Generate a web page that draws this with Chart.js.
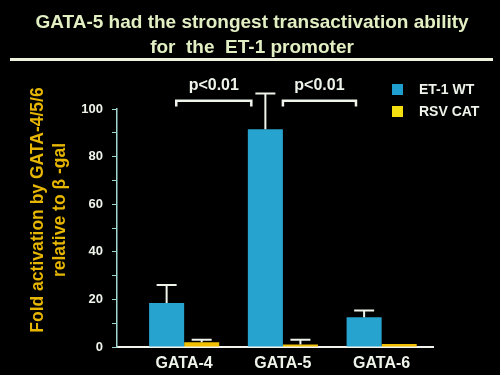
<!DOCTYPE html>
<html>
<head>
<meta charset="utf-8">
<script src="https://cdn.jsdelivr.net/npm/chart.js@4/dist/chart.umd.min.js"></script>
<style>
    html, body { margin: 0; padding: 0; background: #000; }
</style>
</head>
<body>
<canvas id="gata-chart" width="500" height="375"></canvas>
<script>
const categories = ['GATA-4', 'GATA-5', 'GATA-6'];
const et1Wt = [18.5, 91.5, 12.5];
const et1WtErr = [7.5, 15, 2.8];
const rsvCat = [2, 1, 1.3];
const rsvCatErr = [1, 2, 0];
const yTickLabels = [0, 20, 40, 60, 80, 100];
const titleLines = ['GATA-5 had the strongest transactivation ability', 'for  the  ET-1 promoter'];
const yTitleLines = ['Fold activation by GATA-4/5/6', 'relative to \u03B2 -gal'];
const pValues = ['p<0.01', 'p<0.01'];

const FONT = '"Liberation Sans", Arial, sans-serif';
const WHITE = '#eef4ea';

// black slide background
const background = {
    id: 'background',
    beforeDraw(chart) {
        const c = chart.ctx;
        c.save();
        c.fillStyle = '#000';
        c.fillRect(0, 0, chart.width, chart.height);
        c.restore();
    }
};

// error bars, drawn up from the bar top
const errorBars = {
    id: 'errorBars',
    afterDatasetsDraw(chart) {
        const c = chart.ctx;
        const y = chart.scales.y;
        c.save();
        c.strokeStyle = WHITE;
        c.lineWidth = 2;
        chart.data.datasets.forEach((ds, i) => {
            const meta = chart.getDatasetMeta(i);
            meta.data.forEach((bar, j) => {
                const err = ds.errors[j];
                if (!err) return;
                const top = y.getPixelForValue(ds.data[j].y + err);
                c.beginPath();
                c.moveTo(bar.x, bar.y);
                c.lineTo(bar.x, top);
                c.moveTo(bar.x - 10, top);
                c.lineTo(bar.x + 10, top);
                c.stroke();
            });
        });
        c.restore();
    }
};

// slide title, title rule, brackets, legend, y axis title
const extras = {
    id: 'extras',
    afterDraw(chart) {
        const c = chart.ctx;
        const x = chart.scales.x;
        const y = chart.scales.y;
        c.save();

        c.fillStyle = '#e2efc3';
        c.font = 'bold 19px ' + FONT;
        c.textAlign = 'center';
        c.textBaseline = 'middle';
        titleLines.forEach((line, i) => {
            c.fillText(line, 252, 23 + i * 25);
        });

        c.fillStyle = '#eef2dc';
        c.fillRect(10, 58, 483, 3);

        // significance brackets
        const spans = [[-0.08, 0.68], [1.0, 1.74]];
        const by = y.getPixelForValue(103.5);
        const legY = y.getPixelForValue(101);
        c.strokeStyle = WHITE;
        c.lineWidth = 2.5;
        c.fillStyle = WHITE;
        c.font = 'bold 16px ' + FONT;
        spans.forEach((s, i) => {
            const x1 = x.getPixelForValue(s[0]);
            const x2 = x.getPixelForValue(s[1]);
            c.beginPath();
            c.moveTo(x1, legY);
            c.lineTo(x1, by);
            c.lineTo(x2, by);
            c.lineTo(x2, legY);
            c.stroke();
            c.fillText(pValues[i], (x1 + x2) / 2, y.getPixelForValue(110));
        });

        // legend
        c.font = 'bold 14px ' + FONT;
        c.textAlign = 'left';
        chart.data.datasets.forEach((ds, i) => {
            const ly = 84 + i * 22;
            c.fillStyle = ds.legendColor;
            c.fillRect(392, ly, 11, 11);
            c.fillStyle = WHITE;
            c.fillText(ds.label, 419, ly + 6);
        });

        // y axis title
        c.translate(38, 210);
        c.rotate(-Math.PI / 2);
        c.fillStyle = '#e6b600';
        c.font = 'bold 17.5px ' + FONT;
        c.textAlign = 'center';
        yTitleLines.forEach((line, i) => {
            c.fillText(line, 0, i * 22);
        });
        c.restore();
    }
};

const ctx = document.getElementById('gata-chart').getContext('2d');
const gataChart = new Chart(ctx, {
    type: 'bar',
    data: {
        datasets: [
            {
                label: 'ET-1 WT',
                data: et1Wt.map((v, i) => ({ x: i, y: v })),
                errors: et1WtErr,
                backgroundColor: '#27a3cf',
                legendColor: '#1f9fd0',
                categoryPercentage: 0.71,
                barPercentage: 1.0
            },
            {
                label: 'RSV CAT',
                data: rsvCat.map((v, i) => ({ x: i, y: v })),
                errors: rsvCatErr,
                backgroundColor: '#f0c000',
                legendColor: '#f4e010',
                categoryPercentage: 0.71,
                barPercentage: 1.0
            }
        ]
    },
    options: {
        responsive: false,
        animation: false,
        layout: { padding: { left: 0, right: 67, top: 109, bottom: 0 } },
        plugins: {
            legend: { display: false },
            tooltip: { enabled: false },
            title: { display: false }
        },
        scales: {
            x: {
                type: 'linear',
                min: -0.68,
                max: 2.52,
                offset: false,
                afterBuildTicks(scale) {
                    scale.ticks = categories.map((c, i) => ({ value: i }));
                },
                afterFit(scale) { scale.height = 28; },
                ticks: {
                    callback: v => categories[v],
                    color: WHITE,
                    font: { family: FONT, size: 16, weight: 'bold' },
                    padding: 7,
                    maxRotation: 0
                },
                grid: { display: false, drawTicks: false },
                border: { display: true, color: '#f2f4ee', width: 2 }
            },
            y: {
                min: 0,
                max: 100,
                afterFit(scale) { scale.width = 117; },
                ticks: {
                    stepSize: 10,
                    autoSkip: false,
                    callback: v => yTickLabels.includes(v) ? v : '',
                    color: WHITE,
                    font: { family: FONT, size: 13, weight: 'bold' },
                    padding: 9
                },
                grid: { drawOnChartArea: false, drawTicks: true, tickLength: 5, color: '#9fd6cf' },
                border: { display: true, color: '#9fd6cf', width: 1.5 }
            }
        }
    },
    plugins: [background, errorBars, extras]
});
</script>
</body>
</html>
